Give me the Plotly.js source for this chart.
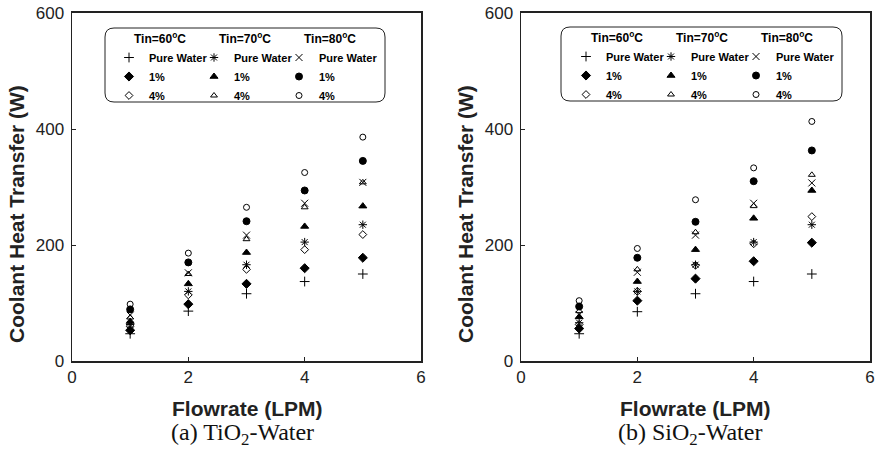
<!DOCTYPE html>
<html>
<head>
<meta charset="utf-8">
<script src="https://cdn.plot.ly/plotly-3.0.1.min.js"></script>
<style>
  html, body { margin: 0; padding: 0; background: #fff; }
  #chart { width: 880px; height: 457px; }
</style>
</head>
<body>
<div id="chart"></div>
<script>
// ---------------- data ----------------
const flowrate = [1, 2, 3, 4, 5];

const seriesNames = ["Pure Water", "1%", "4%"];
const groupTitles = ["Tin=60<sup>o</sup>C", "Tin=70<sup>o</sup>C", "Tin=80<sup>o</sup>C"];

// (a) TiO2-Water
const tio2_pure60 = [47, 86, 116, 137, 150];
const tio2_1pct60 = [53, 98, 133, 160, 178];
const tio2_4pct60 = [60, 114, 158, 192, 218];
const tio2_pure70 = [63, 120, 166, 205, 235];
const tio2_1pct70 = [68, 133, 187, 232, 267];
const tio2_4pct70 = [75, 150, 210, 265, 308];
const tio2_pure80 = [79, 152, 217, 272, 308];
const tio2_1pct80 = [89, 170, 241, 294, 345];
const tio2_4pct80 = [98, 186, 265, 325, 386];

// (b) SiO2-Water
const sio2_pure60 = [47, 85, 116, 137, 150];
const sio2_1pct60 = [56, 104, 142, 172, 204];
const sio2_4pct60 = [63, 120, 165, 202, 249];
const sio2_pure70 = [66, 120, 166, 205, 235];
const sio2_1pct70 = [76, 137, 192, 246, 294];
const sio2_4pct70 = [86, 158, 222, 267, 321];
const sio2_pure80 = [80, 153, 217, 272, 307];
const sio2_1pct80 = [94, 178, 240, 310, 363];
const sio2_4pct80 = [104, 194, 278, 333, 413];

const xTickVals = [0, 2, 4, 6];
const yTickVals = [0, 200, 400, 600];

// ---------------- styles ----------------
const W = 880, H = 457;
const M = { l: 0, r: 0, t: 13, b: 96 };
const plotH = H - M.t - M.b;
function px(x) { return x / W; }
function py(y) { return (H - M.b - y) / plotH; }

const symbols = [
  ["cross-thin", "diamond", "diamond-open"],
  ["asterisk", "triangle-up", "triangle-up-open"],
  ["x-thin", "circle", "circle-open"]
];
const sizes = [
  [7, 7, 6],
  [7, 7, 6],
  [7, 7, 6]
];
const pad = "&nbsp;&nbsp;&nbsp;&nbsp;&nbsp;&nbsp;";

const tio2 = [
  [tio2_pure60, tio2_1pct60, tio2_4pct60],
  [tio2_pure70, tio2_1pct70, tio2_4pct70],
  [tio2_pure80, tio2_1pct80, tio2_4pct80]
];
const sio2 = [
  [sio2_pure60, sio2_1pct60, sio2_4pct60],
  [sio2_pure70, sio2_1pct70, sio2_4pct70],
  [sio2_pure80, sio2_1pct80, sio2_4pct80]
];

const traces = [];
function addSet(sets, xa, ya, legendId, tag) {
  for (let g = 0; g < 3; g++) {
    for (let s = 0; s < 3; s++) {
      const sym = symbols[g][s];
      const tr = {
        type: "scatter",
        mode: "markers",
        x: flowrate,
        y: sets[g][s],
        xaxis: xa,
        yaxis: ya,
        name: seriesNames[s],
        legend: legendId,
        legendgroup: tag + g,
        legendgrouptitle: { text: pad + groupTitles[g], font: { family: "Liberation Sans, Arial, sans-serif", size: 12, color: "#000", weight: "bold" } },
        marker: {
          symbol: sym,
          size: sizes[g][s],
          color: "#000",
          line: { color: "#000", width: 1 }
        },
        hoverinfo: "x+y+name"
      };
      if (g === 2) tr.legendwidth = 75;
      traces.push(tr);
    }
  }
}
addSet(tio2, "x", "y", "legend", "a");
addSet(sio2, "x2", "y2", "legend2", "b");

const tickFont = { family: "Liberation Sans, Arial, sans-serif", size: 17, color: "#222" };
function xAxis(domain, anchor) {
  return {
    domain: domain, anchor: anchor, range: [0, 6], tickvals: xTickVals,
    showgrid: false, zeroline: false, showline: true, mirror: true,
    linecolor: "#222", linewidth: 2, ticks: "inside", ticklen: 4, tickcolor: "#222",
    tickfont: tickFont, fixedrange: true
  };
}
function yAxis(anchor) {
  return {
    domain: [0, 1], anchor: anchor, range: [0, 600], tickvals: yTickVals,
    showgrid: false, zeroline: false, showline: true, mirror: true,
    linecolor: "#222", linewidth: 1.5, ticks: "inside", ticklen: 4, tickcolor: "#222",
    tickfont: tickFont, ticklabelstandoff: 3, fixedrange: true
  };
}

function roundRect(x0, y0, x1, y1, r) {
  const X0 = px(x0), X1 = px(x1), Y0 = py(y0), Y1 = py(y1);
  const rx = r / W, ry = r / plotH;
  return "M" + (X0 + rx) + "," + Y0 +
    " L" + (X1 - rx) + "," + Y0 +
    " Q" + X1 + "," + Y0 + " " + X1 + "," + (Y0 - ry) +
    " L" + X1 + "," + (Y1 + ry) +
    " Q" + X1 + "," + Y1 + " " + (X1 - rx) + "," + Y1 +
    " L" + (X0 + rx) + "," + Y1 +
    " Q" + X0 + "," + Y1 + " " + X0 + "," + (Y1 + ry) +
    " L" + X0 + "," + (Y0 - ry) +
    " Q" + X0 + "," + Y0 + " " + (X0 + rx) + "," + Y0 + " Z";
}

const legendFont = { family: "Liberation Sans, Arial, sans-serif", size: 11, color: "#000", weight: "bold" };
function legendCfg(xpx, ypx) {
  return {
    x: px(xpx), y: py(ypx), xanchor: "left", yanchor: "top",
    orientation: "h", traceorder: "grouped", entrywidth: 40, entrywidthmode: "pixels",
    bgcolor: "rgba(0,0,0,0)", borderwidth: 0, font: legendFont,
    tracegroupgap: 0, itemclick: false, itemdoubleclick: false
  };
}

const titleFont = { family: "Liberation Sans, Arial, sans-serif", size: 21, color: "#222", weight: "bold" };
const capFont = { family: "Liberation Serif, Times New Roman, serif", size: 24, color: "#111" };

const annotations = [
  { text: "Coolant Heat Transfer (W)", xref: "paper", yref: "paper", x: px(16), y: py(214), textangle: -90, showarrow: false, font: titleFont, xanchor: "center", yanchor: "middle" },
  { text: "Coolant Heat Transfer (W)", xref: "paper", yref: "paper", x: px(465), y: py(214), textangle: -90, showarrow: false, font: titleFont, xanchor: "center", yanchor: "middle" },
  { text: "Flowrate (LPM)", xref: "paper", yref: "paper", x: px(247), y: py(408), showarrow: false, font: titleFont, xanchor: "center", yanchor: "middle" },
  { text: "Flowrate (LPM)", xref: "paper", yref: "paper", x: px(695), y: py(408), showarrow: false, font: titleFont, xanchor: "center", yanchor: "middle" },
  { text: "(a) TiO<sub>2</sub>-Water", xref: "paper", yref: "paper", x: px(242), y: py(434), showarrow: false, font: capFont, xanchor: "center", yanchor: "middle" },
  { text: "(b) SiO<sub>2</sub>-Water", xref: "paper", yref: "paper", x: px(690), y: py(434), showarrow: false, font: capFont, xanchor: "center", yanchor: "middle" }
];

const layout = {
  width: W, height: H,
  margin: M,
  paper_bgcolor: "#fff", plot_bgcolor: "#fff",
  showlegend: true,
  xaxis: xAxis([px(72), px(421)], "y"),
  yaxis: yAxis("x"),
  xaxis2: xAxis([px(521), px(870)], "y2"),
  yaxis2: yAxis("x2"),
  legend: legendCfg(109, 24),
  legend2: legendCfg(566, 23),
  shapes: [
    { type: "path", xref: "paper", yref: "paper", path: roundRect(105, 28, 385, 102, 9), line: { color: "#222", width: 1 }, fillcolor: "rgba(0,0,0,0)" },
    { type: "path", xref: "paper", yref: "paper", path: roundRect(561, 27, 842, 101, 9), line: { color: "#222", width: 1 }, fillcolor: "rgba(0,0,0,0)" }
  ],
  annotations: annotations
};

Plotly.newPlot("chart", traces, layout, { displayModeBar: false, staticPlot: true });
</script>
</body>
</html>
